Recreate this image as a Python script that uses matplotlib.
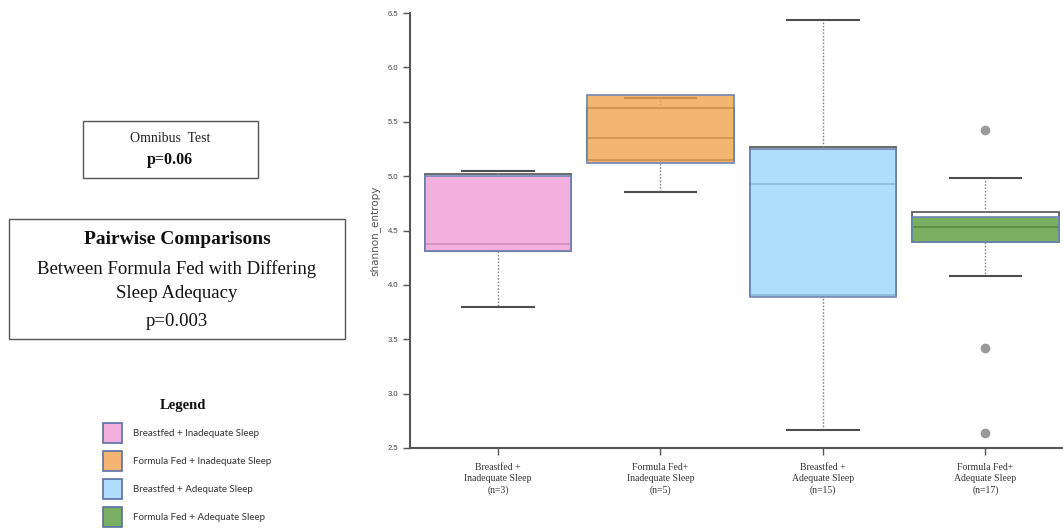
import matplotlib
matplotlib.use("Agg")
from matplotlib import pyplot as plt
from matplotlib.patches import Rectangle
from matplotlib.colors import to_rgba

# groups along the x axis
groups = [
    "Breastfed +\nInadequate Sleep\n(n=3)",
    "Formula Fed+\nInadequate Sleep\n(n=5)",
    "Breastfed +\nAdequate Sleep\n(n=15)",
    "Formula Fed+\nAdequate Sleep\n(n=17)",
]
legend_labels = [
    "Breastfed + Inadequate Sleep",
    "Formula Fed + Inadequate Sleep",
    "Breastfed + Adequate Sleep",
    "Formula Fed + Adequate Sleep",
]

# shannon entropy box statistics
q1 = [4.31, 5.15, 3.91, 4.39]
med = [4.38, 5.35, 4.93, 4.53]
q3 = [5.02, 5.63, 5.27, 4.67]
whislo = [3.80, 4.85, 2.67, 4.08]
whishi = [5.05, 5.72, 6.44, 4.98]
fliers = [[], [], [], [5.42, 3.42, 2.64]]

# coloured highlight boxes laid over the plot
hl_lo = [4.31, 5.12, 3.89, 4.39]
hl_hi = [5.00, 5.75, 5.25, 4.62]
colors = ["#f09ad6", "#f2a14c", "#97d5fb", "#549837"]
hl_alpha = 0.78

yticks = [2.5, 3.0, 3.5, 4.0, 4.5, 5.0, 5.5, 6.0, 6.5]

W, H = 1063, 532


def fx(px):
    return px / W


def fy(py):
    return 1 - py / H


fig = plt.figure(figsize=(W / 100, H / 100), dpi=100)

ax = fig.add_axes([fx(410), fy(448), fx(1063 - 410), (448 - 13) / H])

stats = []
for i in range(len(groups)):
    stats.append(dict(med=med[i], q1=q1[i], q3=q3[i], whislo=whislo[i],
                      whishi=whishi[i], fliers=fliers[i]))

pos = list(range(len(groups)))
ax.bxp(stats, positions=pos, widths=0.9, capwidths=0.44, patch_artist=True,
       showfliers=True,
       boxprops=dict(facecolor="white", edgecolor="#5e5e5e", linewidth=1.3),
       medianprops=dict(color="#5e5e5e", linewidth=1.2),
       whiskerprops=dict(color="#8a8a8a", linestyle=(0, (1.2, 1.2)), linewidth=1.0),
       capprops=dict(color="#4d4d4d", linewidth=1.5),
       flierprops=dict(marker="o", markerfacecolor="#9a9a9a", markeredgecolor="#9a9a9a",
                       markersize=6))

heights = [h - l for h, l in zip(hl_hi, hl_lo)]
ax.bar(pos, heights, bottom=hl_lo, width=0.9,
       color=[to_rgba(c, hl_alpha) for c in colors],
       edgecolor="#6f85b5", linewidth=1.2, zorder=3)

ax.set_xlim(-0.5415, 3.477)
ax.set_ylim(2.5, 6.5)
ax.set_yticks(yticks)
ax.set_yticklabels([f"{t:.1f}" for t in yticks], fontsize=5.5,
                   family="Liberation Sans", color="#444444")
ax.set_xticks(pos)
ax.set_xticklabels(groups, fontsize=7, family="Liberation Serif",
                   color="#333333", linespacing=1.3)
ax.tick_params(axis="both", color="#555555", width=1, length=5)
ax.tick_params(axis="x", pad=6)
ax.set_ylabel("shannon_entropy", fontsize=7.5, color="#555555", labelpad=5)
for s in ["top", "right"]:
    ax.spines[s].set_visible(False)
for s in ["left", "bottom"]:
    ax.spines[s].set_color("#555555")
    ax.spines[s].set_linewidth(1.5)

# left panel: test results
fig.patches.append(Rectangle((fx(83), fy(178)), fx(258 - 83), (178 - 121) / H,
                             transform=fig.transFigure, fill=False,
                             edgecolor="#555555", linewidth=1))
fig.text(fx(170), fy(139), "Omnibus  Test", ha="center", va="center",
         fontsize=10, family="Liberation Serif", color="#222222")
fig.text(fx(170), fy(160), "p=0.06", ha="center", va="center",
         fontsize=11.5, family="Liberation Serif", weight="bold", color="#111111")

fig.patches.append(Rectangle((fx(9), fy(339)), fx(345 - 9), (339 - 219) / H,
                             transform=fig.transFigure, fill=False,
                             edgecolor="#555555", linewidth=1))
fig.text(fx(177), fy(240), "Pairwise Comparisons", ha="center", va="center",
         fontsize=14, family="Liberation Serif", weight="bold", color="#111111")
fig.text(fx(177), fy(269), "Between Formula Fed with Differing", ha="center",
         va="center", fontsize=13.5, family="Liberation Serif", color="#111111")
fig.text(fx(177), fy(293), "Sleep Adequacy", ha="center", va="center",
         fontsize=13.5, family="Liberation Serif", color="#111111")
fig.text(fx(177), fy(322), "p=0.003", ha="center", va="center",
         fontsize=13.5, family="Liberation Serif", color="#111111")

# legend
fig.text(fx(183), fy(406), "Legend", ha="center", va="center", fontsize=10.5,
         family="Liberation Serif", weight="bold", color="#111111")
for i, (lab, c) in enumerate(zip(legend_labels, colors)):
    yc = 433 + 28 * i
    fig.patches.append(Rectangle((fx(103), fy(yc + 10)), fx(19), 20 / H,
                                 transform=fig.transFigure,
                                 facecolor=to_rgba(c, hl_alpha),
                                 edgecolor="#5a6fa8", linewidth=1.2))
    fig.text(fx(133), fy(yc), lab, ha="left", va="center", fontsize=7,
             family="Lato", color="#333333")

fig.savefig("out.png", dpi=100)
